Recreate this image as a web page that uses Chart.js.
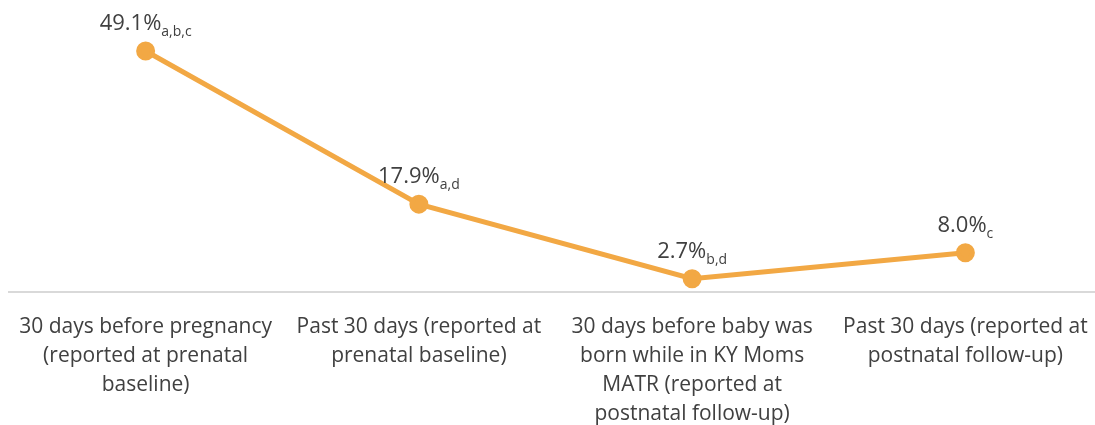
<!DOCTYPE html>
<html>
<head>
<meta charset="utf-8">
<script src="https://cdn.jsdelivr.net/npm/chart.js@4"></script>
<style>
  html, body { margin: 0; padding: 0; background: #fff; overflow: hidden; }
  #wrap { width: 1095px; height: 425px; overflow: hidden; }
</style>
</head>
<body>
<div id="wrap"><canvas id="myChart" width="1102" height="425"></canvas></div>
<script>
const categories = [
    ['30 days before pregnancy', '(reported at prenatal', 'baseline)'],
    ['Past 30 days (reported at', 'prenatal baseline)'],
    ['30 days before baby was', 'born while in KY Moms', 'MATR (reported at', 'postnatal follow-up)'],
    ['Past 30 days (reported at', 'postnatal follow-up)']
];
const values = [49.1, 17.9, 2.7, 8.0];
const subscripts = ['a,b,c', 'a,d', 'b,d', 'c'];

const lineColor = '#F2A844';
const textColor = '#404040';
const fontFamily = "'Open Sans', 'Noto Sans', sans-serif";

// draws "49.1%" with the small subscript letters after it
const valueLabels = {
    id: 'valueLabels',
    afterDatasetsDraw(chart) {
        const ctx = chart.ctx;
        const meta = chart.getDatasetMeta(0);
        ctx.save();
        ctx.fillStyle = textColor;
        ctx.textBaseline = 'alphabetic';
        ctx.textAlign = 'left';
        meta.data.forEach((pt, i) => {
            const main = values[i].toFixed(1) + '%';
            const sub = subscripts[i];
            ctx.font = '22px ' + fontFamily;
            const w1 = ctx.measureText(main).width;
            ctx.font = '14px ' + fontFamily;
            const w2 = ctx.measureText(sub).width;
            const x0 = pt.x - (w1 + w2) / 2;
            const y0 = pt.y - 21;
            ctx.font = '22px ' + fontFamily;
            ctx.fillText(main, x0, y0);
            ctx.font = '14px ' + fontFamily;
            ctx.fillText(sub, x0 + w1, y0 + 6);
        });
        ctx.restore();
    }
};

new Chart(document.getElementById('myChart').getContext('2d'), {
    type: 'line',
    data: {
        labels: categories,
        datasets: [{
            data: values,
            borderColor: lineColor,
            backgroundColor: lineColor,
            borderWidth: 5,
            pointRadius: 7,
            pointHoverRadius: 7,
            tension: 0
        }]
    },
    options: {
        responsive: false,
        animation: false,
        layout: { autoPadding: false, padding: { left: 9, right: 0, top: 0, bottom: 0 } },
        plugins: { legend: { display: false }, tooltip: { enabled: false } },
        scales: {
            x: {
                offset: true,
                grid: { display: false, drawTicks: false },
                border: { display: true, color: '#d9d9d9', width: 2 },
                ticks: {
                    color: textColor,
                    font: { family: fontFamily, size: 21, lineHeight: 1.38 },
                    padding: 21,
                    maxRotation: 0,
                    autoSkip: false
                },
                afterFit: (scale) => {
                    scale.height = 133;
                    scale.paddingLeft = 0;
                    scale.paddingRight = 0;
                }
            },
            y: {
                display: false,
                min: 0,
                max: 59.5
            }
        }
    },
    plugins: [valueLabels]
});
</script>
</body>
</html>
